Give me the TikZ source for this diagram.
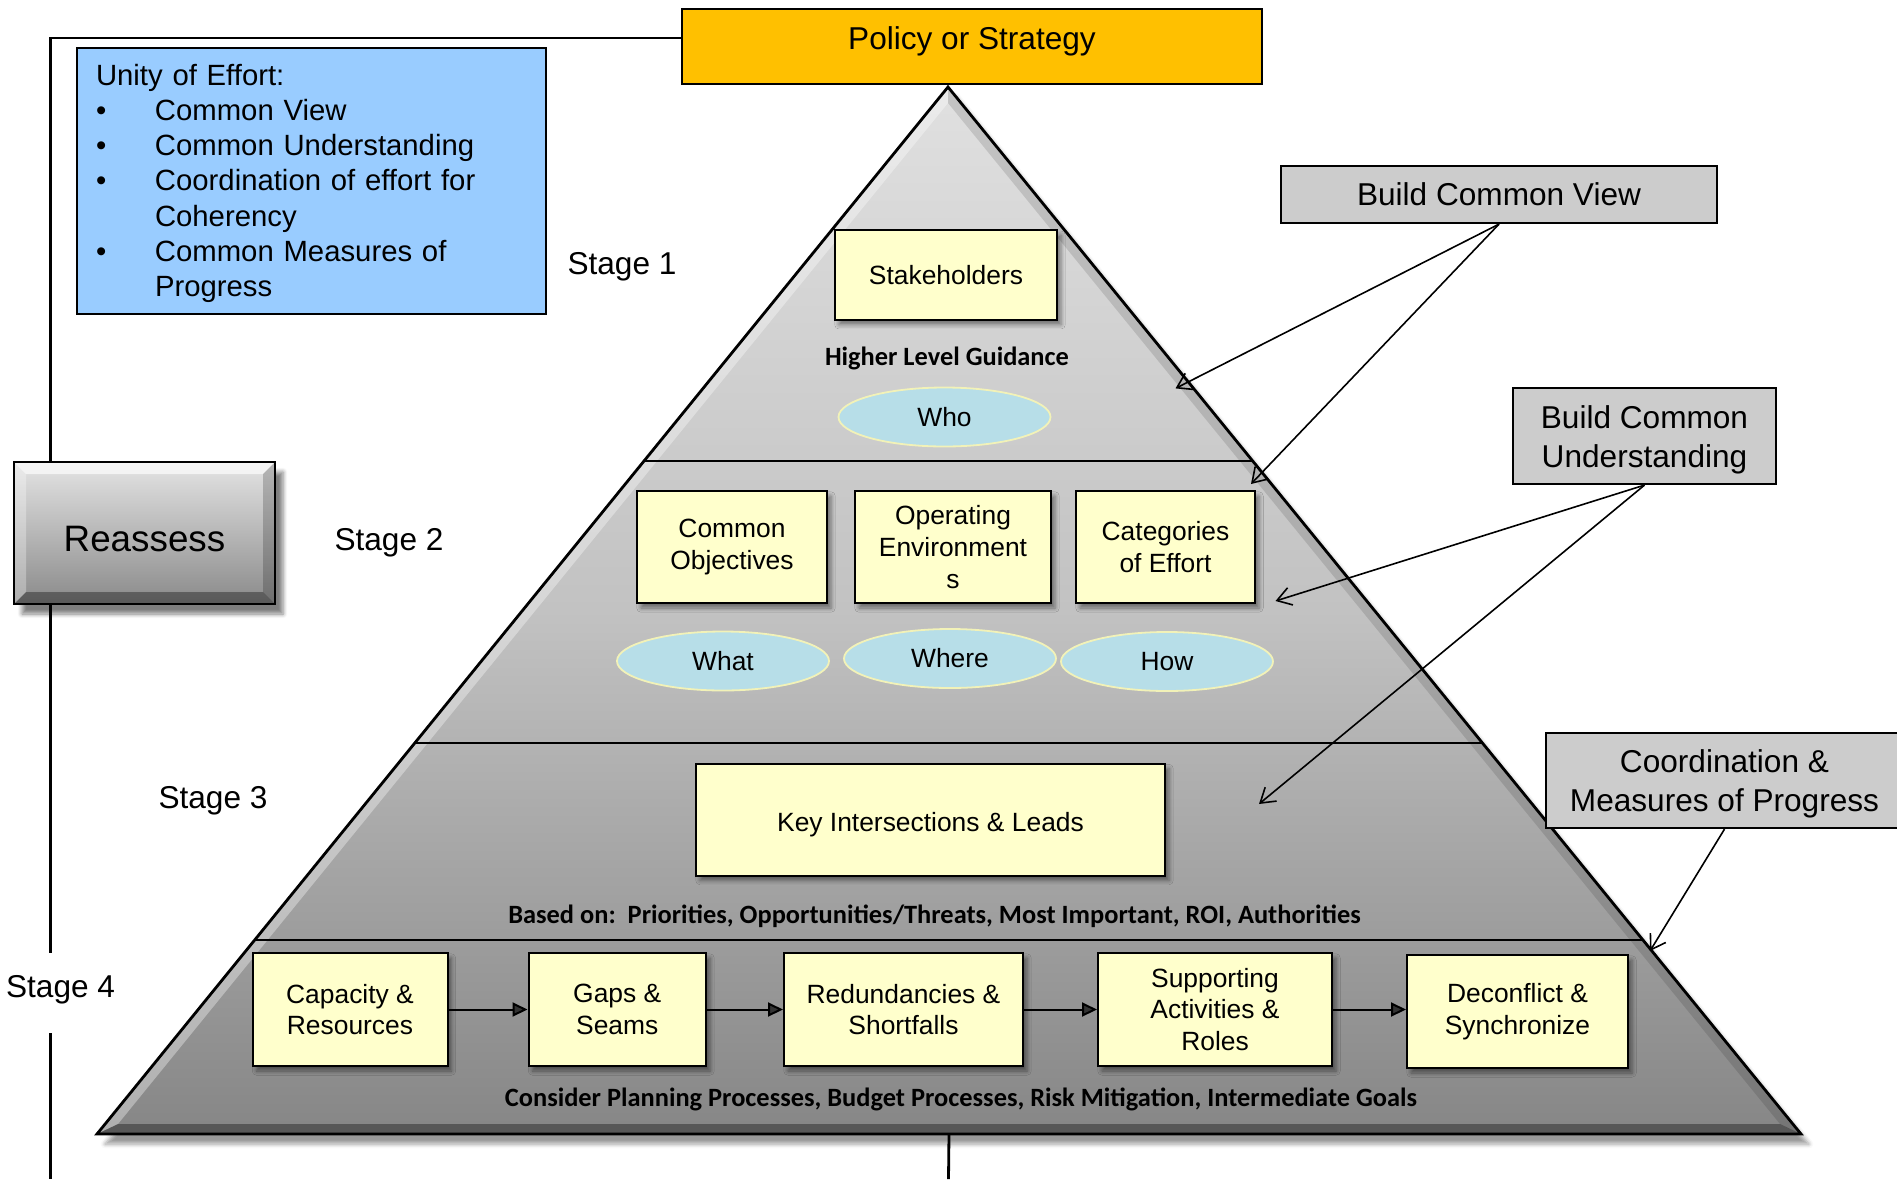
\documentclass[tikz,border=0pt]{standalone}
\usepackage{fontspec}
\setmainfont{Liberation Sans}
\newfontfamily\calibri{Carlito}
\usepackage{tikz}
\usetikzlibrary{arrows.meta,positioning,shapes.geometric,calc,shadows.blur}

\definecolor{policyorange}{HTML}{FFC000}
\definecolor{unityblue}{HTML}{99CCFF}
\definecolor{stepyellow}{HTML}{FFFFCC}
\definecolor{askcyan}{HTML}{B7DEE8}
\definecolor{askrim}{HTML}{F2F2B8}
\definecolor{calloutgray}{HTML}{CCCCCC}
\definecolor{pyrtop}{RGB}{224,224,224}
\definecolor{pyrmid}{RGB}{194,194,194}
\definecolor{pyrbot}{RGB}{134,134,134}
\definecolor{btntop}{RGB}{228,228,228}
\definecolor{btnbot}{RGB}{138,138,138}

% bullet with a fixed hanging indent
\newcommand\effortbullet{\makebox[29.5pt][l]{\textbullet}}
% taller first line, pushes a text block down a little
\newcommand\lift[1]{\rule{0pt}{#1}}

\begin{document}
\begin{tikzpicture}[x=0.5pt, y=0.5pt,
    big/.style={font=\fontsize{15.8}{19.4}\selectfont},
    box/.style={draw, line width=1pt, fill=stepyellow, align=center,
      inner sep=2pt, minimum height=56pt, font=\fontsize{13.2}{15.8}\selectfont,
      blur shadow={shadow xshift=2pt, shadow yshift=-2.5pt, shadow opacity=45}},
    ask/.style={ellipse, draw=askrim, line width=0.9pt, fill=askcyan,
      minimum width=106pt, minimum height=29.5pt, inner sep=0pt,
      font=\fontsize{13.2}{15.8}\selectfont},
    note/.style={font=\calibri\bfseries\fontsize{13.2}{15.8}\selectfont},
    callout/.style={draw, line width=1.1pt, fill=calloutgray, align=center, big},
    stage/.style={big},
    feedback/.style={line width=1.4pt},
    pointer/.style={line width=0.8pt, -{Straight Barb[length=7pt,width=9pt]}},
    flow/.style={line width=1pt, -{Triangle[length=7.5pt,width=7pt]}},
    bevel/.style={path picture={
        \coordinate (nw) at (path picture bounding box.north west);
        \coordinate (se) at (path picture bounding box.south east);
        \coordinate (ne) at (nw -| se);
        \coordinate (sw) at (nw |- se);
        \fill[white, opacity=.65] (nw) -- (ne) -- ([shift={(-6pt,-6pt)}]ne)
          -- ([shift={(6pt,-6pt)}]nw) -- cycle;
        \fill[white, opacity=.3] (nw) -- (sw) -- ([shift={(6pt,6pt)}]sw)
          -- ([shift={(6pt,-6pt)}]nw) -- cycle;
        \fill[black, opacity=.35] (sw) -- (se) -- ([shift={(-6pt,6pt)}]se)
          -- ([shift={(6pt,6pt)}]sw) -- cycle;
        \fill[black, opacity=.2] (ne) -- (se) -- ([shift={(-6pt,6pt)}]se)
          -- ([shift={(-6pt,-6pt)}]ne) -- cycle;
      }},
  ]
  \useasboundingbox (0,0) rectangle (1897,-1179);

  % pyramid body
  \coordinate (apex) at (948,-87);
  \coordinate (baseL) at (97,-1134);
  \coordinate (baseR) at (1801,-1134);
  \path[blur shadow={shadow xshift=4pt, shadow yshift=-5pt, shadow opacity=40},
    top color=pyrtop, bottom color=pyrbot, middle color=pyrmid]
    (apex) -- (baseL) -- (baseR) -- cycle;
  \fill[white, opacity=.35] (apex) -- (baseL) -- (118,-1124) -- (948,-103) -- cycle;
  \fill[black, opacity=.12] (apex) -- (baseR) -- (1780,-1124) -- (948,-103) -- cycle;
  \fill[black, opacity=.35] (baseL) -- (baseR) -- (1780,-1124) -- (118,-1124) -- cycle;
  \draw[line width=1.4pt] (apex) -- (baseL) -- (baseR) -- cycle;
  \foreach \f in {0.357,0.627,0.815}
    \draw[line width=1pt] ($(apex)!\f!(baseL)$) -- ($(apex)!\f!(baseR)$);

  % top and left side
  \node[draw, line width=1.2pt, fill=policyorange, minimum width=290pt,
    minimum height=37.5pt, text depth=8pt, big] (policy) at (972,-46.5)
    {Policy or Strategy};
  \node[draw, line width=1.2pt, fill=unityblue, text width=215.5pt,
    inner xsep=9.5pt, minimum height=133pt, align=left,
    font=\fontsize{14.65}{17.65}\selectfont] (unity) at (311.5,-181)
    {\lift{13pt}Unity of Effort:\\
     \effortbullet Common View\\
     \effortbullet Common Understanding\\
     \effortbullet Coordination of effort for\\
     \hspace*{29.5pt}Coherency\\
     \effortbullet Common Measures of\\
     \hspace*{29.5pt}Progress};
  \node[draw, line width=1pt, top color=btntop, bottom color=btnbot, bevel,
    minimum width=130.5pt, minimum height=71pt, text height=18.8pt, text depth=0pt,
    font=\fontsize{18.4}{21}\selectfont,
    blur shadow={shadow xshift=4pt, shadow yshift=-5pt, shadow opacity=50}]
    (reassess) at (144.5,-533) {Reassess};

  \coordinate (corner) at (50.5,-38);
  \coordinate (loopend) at (50.5,-1179);
  \coordinate (baseout) at (948.5,-1179);
  \draw[feedback] (reassess.north -| corner) |- ([yshift=4.25pt]policy.west);
  \draw[feedback] (reassess.south -| corner) -- (loopend);
  \draw[feedback] ($(baseL)!0.5!(baseR)$) -- (baseout);

  \node[stage] (stage1) at (622,-266.6) {Stage 1};
  \node[stage] (stage2) at (389,-542.6) {Stage 2};
  \node[stage] (stage3) at (213,-800.6) {Stage 3};
  \node[stage, fill=white, minimum height=40pt, inner xsep=1pt, text depth=6.9pt]
    (stage4) at (60.6,-993) {Stage 4};

  % stage 1
  \node[box, minimum width=111pt, minimum height=44.75pt] (stake) at (946,-275)
    {Stakeholders};
  \node[note] (guidance) at (947,-358.5) {Higher Level Guidance};
  \node[ask] (who) at (944.5,-417) {Who};

  % stage 2
  \node[box, minimum width=95pt] (objectives) at (732,-547) {Common\\Objectives};
  \node[box, minimum width=98pt, right=13pt of objectives] (environ)
    {Operating\\Environment\\s};
  \node[box, minimum width=89.5pt, right=11.5pt of environ] (categories)
    {Categories\\of Effort};
  \node[ask] (what) at (723,-661) {What};
  \node[ask] (where) at (950,-658.5) {Where};
  \node[ask] (how) at (1167,-661.5) {How};

  % stage 3
  \node[box, minimum width=234.5pt, text height=14.3pt] (key) at (930.5,-819.5)
    {Key Intersections \& Leads};
  \node[note] (basedon) at (934.5,-916)
    {Based on:\ \ Priorities, Opportunities/Threats, Most Important, ROI, Authorities};

  % stage 4
  \node[box, minimum width=97.5pt, minimum height=56.5pt] (capacity) at (350,-1009.5)
    {Capacity \&\\Resources};
  \node[box, minimum width=88.75pt, minimum height=56.5pt, right=39.5pt of capacity]
    (gaps) {Gaps \&\\Seams};
  \node[box, minimum width=119.5pt, minimum height=56.5pt, right=38pt of gaps]
    (redund) {Redundancies \&\\Shortfalls};
  \node[box, minimum width=117pt, minimum height=56.5pt, right=36.5pt of redund]
    (support) {Supporting\\Activities \&\\Roles};
  \node[box, minimum width=110.5pt, minimum height=56.5pt, right=36.5pt of support,
    yshift=-1pt] (deconflict) {Deconflict \&\\Synchronize};
  \foreach \a/\b in {capacity/gaps, gaps/redund, redund/support, support/deconflict}
    \draw[flow] (\a) -- (\a -| \b.west);
  \node[note] (consider) at (961,-1099)
    {Consider Planning Processes, Budget Processes, Risk Mitigation, Intermediate Goals};

  % callouts on the right
  \node[callout, minimum width=218pt, minimum height=28.5pt] (view) at (1499,-194.5)
    {Build Common View};
  \node[callout, minimum width=131.5pt, minimum height=48pt] (underst) at (1644.5,-436)
    {\lift{14.9pt}Build Common\\Understanding};
  \node[callout, minimum width=178.5pt, minimum height=47.5pt] (coord) at (1724.5,-780.5)
    {\lift{14.9pt}Coordination \&\\Measures of Progress};

  \coordinate (viewtipA) at (1175.5,-388.4);
  \coordinate (viewtipB) at (1251,-484);
  \coordinate (undertipA) at (1275.5,-601);
  \coordinate (undertipB) at (1259,-804);
  \coordinate (coordtip) at (1650,-951);
  \draw[pointer] (view.south) -- (viewtipA);
  \draw[pointer] (view.south) -- (viewtipB);
  \draw[pointer] (underst.south) -- (undertipA);
  \draw[pointer] (underst.south) -- (undertipB);
  \draw[pointer] (coord.south) -- (coordtip);
\end{tikzpicture}
\end{document}
